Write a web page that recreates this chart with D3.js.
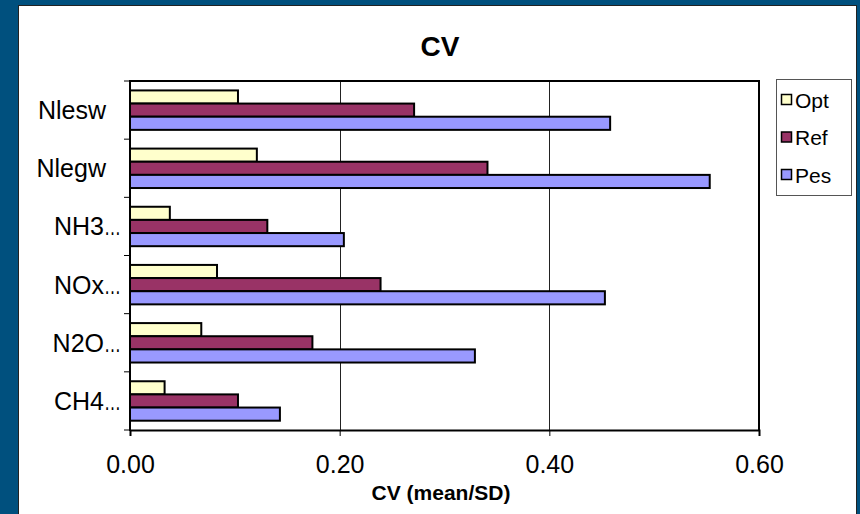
<!DOCTYPE html>
<html>
<head>
<meta charset="utf-8">
<script src="https://cdn.jsdelivr.net/npm/d3@7"></script>
<style>
  html, body { margin: 0; padding: 0; background: #00507E; }
  svg { display: block; }
  text { font-family: "Liberation Sans", Arial, sans-serif; fill: #000; }
</style>
</head>
<body>
<svg id="chart" width="860" height="514"></svg>
<script>
// Category labels (top to bottom) and the truncation marker shown after long names
const categories = ["Nlesw", "Nlegw", "NH3", "NOx", "N2O", "CH4"];
const truncated = [false, false, true, true, true, true];

// Series
const seriesNames = ["Opt", "Ref", "Pes"];
const optValues = [0.103, 0.121, 0.038, 0.083, 0.068, 0.033];
const refValues = [0.271, 0.341, 0.131, 0.239, 0.174, 0.103];
const pesValues = [0.458, 0.553, 0.204, 0.453, 0.329, 0.143];
const seriesColors = ["#FFFFCC", "#993366", "#9999FF"];

// Axis ticks
const xTicks = [0, 0.2, 0.4, 0.6];
const xDomain = [0, 0.6];

const title = "CV";
const xTitle = "CV (mean/SD)";

const svg = d3.select("#chart");

// White chart panel
svg.append("rect")
  .attr("x", 18.5).attr("y", 5.5)
  .attr("width", 838).attr("height", 520)
  .attr("fill", "#fff").attr("stroke", "#222").attr("stroke-width", 1);

const plot = { left: 130, right: 759, top: 81, bottom: 430 };

const x = d3.scaleLinear().domain(xDomain).range([plot.left, plot.right]);
const y = d3.scaleBand().domain(categories).range([plot.top, plot.bottom]).padding(0);
const bw = y.bandwidth();
const sub = d3.scaleBand().domain(seriesNames).range([bw * 0.162, bw * 0.84]).padding(0);

const valuesBySeries = { Opt: optValues, Ref: refValues, Pes: pesValues };

// Vertical gridlines
svg.append("g")
  .selectAll("line")
  .data(xTicks.filter(t => t > 0 && t < xDomain[1]))
  .join("line")
  .attr("x1", d => Math.round(x(d)) + 0.5).attr("x2", d => Math.round(x(d)) + 0.5)
  .attr("y1", plot.top).attr("y2", plot.bottom)
  .attr("stroke", "#222").attr("stroke-width", 1);

// Plot frame (top and right)
svg.append("path")
  .attr("d", `M${plot.left},${plot.top}H${plot.right}V${plot.bottom}`)
  .attr("fill", "none").attr("stroke", "#000").attr("stroke-width", 2);

// Bars
const groups = svg.append("g").selectAll("g")
  .data(categories)
  .join("g")
  .attr("transform", d => `translate(0,${y(d)})`);

groups.selectAll("rect")
  .data((c, i) => seriesNames.map((s, k) => ({ s, k, v: valuesBySeries[s][i] })))
  .join("rect")
  .attr("x", x(0))
  .attr("y", d => sub(d.s))
  .attr("width", d => x(d.v) - x(0))
  .attr("height", sub.bandwidth())
  .attr("fill", d => seriesColors[d.k])
  .attr("stroke", "#000").attr("stroke-width", 2);

// X axis
const xAxis = svg.append("g")
  .attr("transform", `translate(0,${plot.bottom})`)
  .call(d3.axisBottom(x).tickValues(xTicks).tickFormat(d3.format(".2f")).tickSize(6).tickPadding(18));
xAxis.select(".domain").attr("stroke", "#000").attr("stroke-width", 2);
xAxis.selectAll(".tick line").attr("stroke", "#000").attr("stroke-width", 1);
xAxis.selectAll(".tick text")
  .style("font-family", '"Liberation Sans", Arial, sans-serif')
  .style("font-size", "25px").attr("fill", "#000").attr("dy", "0.75em");

// Y axis: ticks at category boundaries
const yBounds = categories.map(c => y(c)).concat([plot.bottom]);
svg.append("g").selectAll("line")
  .data(yBounds)
  .join("line")
  .attr("x1", plot.left - 6).attr("x2", plot.left)
  .attr("y1", d => d).attr("y2", d => d)
  .attr("stroke", "#000").attr("stroke-width", 1);
svg.append("line")
  .attr("x1", plot.left).attr("x2", plot.left)
  .attr("y1", plot.top - 1).attr("y2", plot.bottom + 1)
  .attr("stroke", "#000").attr("stroke-width", 2);

// Category labels
const labelG = svg.append("g").selectAll("g")
  .data(categories)
  .join("g")
  .attr("transform", (d, i) => `translate(${truncated[i] ? 104 : 106},${y(d) + bw / 2})`);
labelG.append("text")
  .attr("text-anchor", "end").attr("dy", "0.36em")
  .style("font-size", "25px")
  .text(d => d);
labelG.filter((d, i) => truncated[i]).append("text")
  .attr("x", 0).attr("dy", "0.36em")
  .attr("textLength", 17).attr("lengthAdjust", "spacingAndGlyphs")
  .style("font-size", "25px")
  .text("…");

// Title
svg.append("text")
  .attr("x", 440).attr("y", 56)
  .attr("text-anchor", "middle")
  .style("font-size", "28px").style("font-weight", "bold")
  .text(title);

// X axis title
svg.append("text")
  .attr("x", 441).attr("y", 500)
  .attr("text-anchor", "middle")
  .style("font-size", "21px").style("font-weight", "bold")
  .text(xTitle);

// Legend
const legend = svg.append("g");
legend.append("rect")
  .attr("x", 776.5).attr("y", 79.5).attr("width", 75).attr("height", 116)
  .attr("fill", "#fff").attr("stroke", "#555").attr("stroke-width", 1);
const items = legend.selectAll("g.item")
  .data(seriesNames)
  .join("g").attr("class", "item")
  .attr("transform", (d, i) => `translate(781,${100 + i * 37.5})`);
items.append("rect")
  .attr("x", 0.5).attr("y", -5.5).attr("width", 10).attr("height", 10)
  .attr("fill", (d, i) => seriesColors[i])
  .attr("stroke", "#000").attr("stroke-width", 1.5);
items.append("text")
  .attr("x", 14).attr("dy", "0.36em")
  .style("font-size", "21px")
  .text(d => d);
</script>
</body>
</html>
